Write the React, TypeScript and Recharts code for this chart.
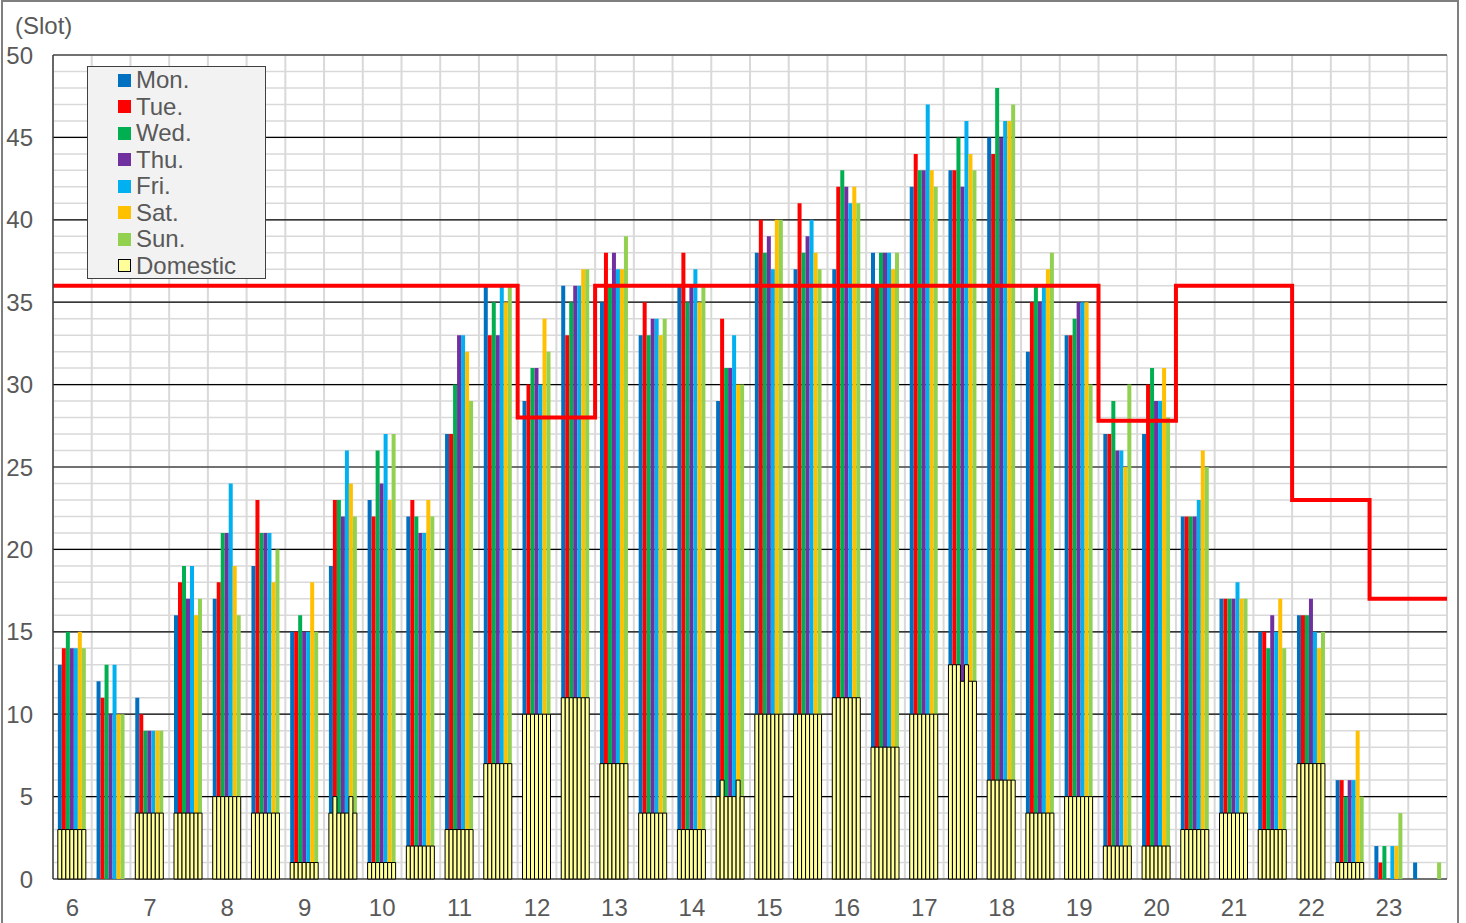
import React from 'react';
import { ComposedChart, Bar, Line, XAxis, YAxis, CartesianGrid } from 'recharts';

const slots = [
  '6:00', '6:30', '7:00', '7:30', '8:00', '8:30', '9:00', '9:30', '10:00', '10:30',
  '11:00', '11:30', '12:00', '12:30', '13:00', '13:30', '14:00', '14:30', '15:00', '15:30',
  '16:00', '16:30', '17:00', '17:30', '18:00', '18:30', '19:00', '19:30', '20:00', '20:30',
  '21:00', '21:30', '22:00', '22:30', '23:00', '23:30',
];

const mon = [13, 12, 11, 16, 17, 19, 15, 19, 23, 22, 27, 36, 29, 36, 35, 33, 36, 29, 38, 37, 37, 38, 42, 43, 45, 32, 33, 27, 27, 22, 17, 15, 16, 6, 2, 1];
const tue = [14, 11, 10, 18, 18, 23, 15, 23, 22, 23, 27, 33, 30, 33, 38, 35, 38, 34, 40, 41, 42, 36, 44, 43, 44, 35, 33, 27, 30, 22, 17, 15, 16, 6, 1, 0];
const wed = [15, 13, 9, 19, 21, 21, 16, 23, 26, 22, 30, 35, 31, 35, 36, 33, 35, 31, 38, 38, 43, 38, 43, 45, 48, 36, 34, 29, 31, 22, 17, 14, 16, 5, 2, 0];
const thu = [14, 10, 9, 17, 21, 21, 15, 22, 24, 21, 33, 33, 31, 36, 38, 34, 36, 31, 39, 39, 42, 38, 43, 42, 45, 35, 35, 26, 29, 22, 17, 16, 17, 6, 0, 0];
const fri = [14, 13, 9, 19, 24, 21, 15, 26, 27, 21, 33, 36, 30, 36, 37, 34, 37, 33, 37, 40, 41, 38, 47, 46, 46, 36, 35, 26, 29, 23, 18, 15, 15, 6, 2, 0];
const sat = [15, 10, 9, 16, 19, 18, 18, 24, 23, 23, 32, 35, 34, 37, 37, 33, 35, 30, 40, 38, 42, 37, 43, 44, 46, 37, 35, 25, 31, 26, 17, 17, 14, 9, 2, 0];
const sun = [14, 10, 9, 17, 16, 20, 15, 22, 27, 22, 29, 36, 32, 37, 39, 34, 36, 30, 40, 37, 41, 38, 42, 43, 47, 38, 30, 30, 28, 25, 17, 14, 15, 5, 4, 1];

// domestic share, same for every day except the listed slots
const domestic = [3, 0, 4, 4, 5, 4, 1, 4, 1, 2, 3, 7, 10, 11, 7, 4, 3, 5, 10, 10, 11, 8, 10, 13, 6, 4, 5, 2, 2, 3, 4, 3, 7, 1, 0, 0];
const domesticExceptions = [
  { slot: '9:30', days: ['Tue', 'Sat'], value: 5 },
  { slot: '14:30', days: ['Tue', 'Sat'], value: 6 },
  { slot: '17:30', days: ['Thu', 'Sat', 'Sun'], value: 12 },
];

// red capacity line
const capacity = [
  36, 36, 36, 36, 36, 36, 36, 36, 36, 36, 36, 36, 28, 28, 36, 36, 36, 36, 36, 36,
  36, 36, 36, 36, 36, 36, 36, 27.8, 27.8, 36, 36, 36, 23, 23, 17, 17,
];

const yTicks = [0, 5, 10, 15, 20, 25, 30, 35, 40, 45, 50];

const days = [
  { key: 'Mon', label: 'Mon.', color: '#0070C0', values: mon },
  { key: 'Tue', label: 'Tue.', color: '#FF0000', values: tue },
  { key: 'Wed', label: 'Wed.', color: '#00B050', values: wed },
  { key: 'Thu', label: 'Thu.', color: '#7030A0', values: thu },
  { key: 'Fri', label: 'Fri.', color: '#00B0F0', values: fri },
  { key: 'Sat', label: 'Sat.', color: '#FFC000', values: sat },
  { key: 'Sun', label: 'Sun.', color: '#92D050', values: sun },
];

const domesticFor = (day: string, slot: string, i: number) => {
  const ex = domesticExceptions.find((e) => e.slot === slot && e.days.includes(day));
  return ex ? ex.value : domestic[i];
};

const rows = slots.map((slot, i) => {
  const row: Record<string, any> = { slot };
  days.forEach((d) => {
    row[d.key] = d.values[i];
    row['dom' + d.key] = domesticFor(d.key, slot, i);
  });
  return row;
});

const capLine = [
  ...capacity.map((cap, i) => ({ x: i, cap })),
  { x: slots.length, cap: capacity[capacity.length - 1] },
];

const boundaries = Array.from({ length: slots.length + 1 }, (_, i) => i);
const minorTicks = Array.from({ length: 51 }, (_, i) => i);

const FONT = '"Liberation Sans", Arial, sans-serif';
const TEXT = '#595959';
const AXIS = '#404040';
const FS = 24;

// slot boundaries -> pixels, through the numeric axis scale when available
const boundaryLines = ({ xAxis, offset }: any) =>
  boundaries.map((b) => {
    const px = xAxis && typeof xAxis.scale === 'function' ? xAxis.scale(b) : undefined;
    return typeof px === 'number' && !Number.isNaN(px)
      ? px
      : offset.left + (offset.width * b) / slots.length;
  });

function ChartLegend() {
  const items = [
    ...days.map((d) => ({ label: d.label, fill: d.color, border: d.color })),
    { label: 'Domestic', fill: '#FFFF99', border: '#000' },
  ];
  return (
    <div
      style={{
        position: 'absolute',
        left: 87,
        top: 66,
        width: 179,
        height: 213,
        boxSizing: 'border-box',
        background: '#F2F2F2',
        border: `1px solid ${AXIS}`,
      }}
    >
      {items.map((it) => (
        <div
          key={it.label}
          style={{ display: 'flex', alignItems: 'center', height: 26.5, paddingLeft: 30 }}
        >
          <span
            style={{
              display: 'inline-block',
              width: 13,
              height: 13,
              boxSizing: 'border-box',
              background: it.fill,
              border: `1px solid ${it.border}`,
              marginRight: 5,
            }}
          />
          <span style={{ fontSize: FS, color: TEXT, lineHeight: '26px' }}>{it.label}</span>
        </div>
      ))}
    </div>
  );
}

export default function App() {
  return (
    <div
      style={{
        position: 'absolute',
        left: 0,
        top: 0,
        width: 1466,
        height: 923,
        overflow: 'hidden',
        background: '#fff',
        fontFamily: FONT,
      }}
    >
      <ComposedChart
        width={1466}
        height={923}
        data={rows}
        margin={{ top: 55, right: 19, left: 0, bottom: 0 }}
        barCategoryGap="12.5%"
        barGap={0}
      >
        <XAxis
          xAxisId="num"
          type="number"
          dataKey="x"
          domain={[0, slots.length]}
          ticks={boundaries}
          interval={0}
          allowDataOverflow
          height={0}
          tick={false}
          tickSize={7}
          tickLine={{ stroke: AXIS, strokeWidth: 1.5 }}
          axisLine={{ stroke: AXIS, strokeWidth: 1.5 }}
        />
        <XAxis
          xAxisId="cat"
          dataKey="slot"
          interval={1}
          height={44}
          tickSize={0}
          tickMargin={20}
          axisLine={false}
          tickLine={false}
          tickFormatter={(v: string) => v.split(':')[0]}
          tick={{ fill: TEXT, fontSize: FS, fontFamily: FONT }}
        />
        <XAxis xAxisId="dom" dataKey="slot" hide />
        <YAxis
          domain={[0, 50]}
          ticks={yTicks}
          interval={0}
          width={53}
          tickSize={0}
          tickMargin={20}
          tickLine={false}
          axisLine={{ stroke: AXIS, strokeWidth: 1.5 }}
          tick={{ fill: TEXT, fontSize: FS, fontFamily: FONT }}
        />
        <YAxis
          yAxisId="right"
          orientation="right"
          domain={[0, 50]}
          width={0}
          tick={false}
          tickLine={false}
          axisLine={{ stroke: AXIS, strokeWidth: 1.5 }}
        />
        <CartesianGrid
          xAxisId="num"
          horizontalValues={minorTicks}
          vertical={false}
          stroke="#D9D9D9"
          strokeWidth={1.5}
        />
        <CartesianGrid
          xAxisId="num"
          horizontal={false}
          verticalCoordinatesGenerator={boundaryLines}
          stroke="#D9D9D9"
          strokeWidth={2}
        />
        <CartesianGrid
          xAxisId="num"
          horizontalValues={yTicks}
          vertical={false}
          stroke="#000"
          strokeWidth={1.2}
        />
        {days.map((d) => (
          <Bar
            key={d.key}
            xAxisId="cat"
            dataKey={d.key}
            name={d.label}
            fill={d.color}
            isAnimationActive={false}
          />
        ))}
        {days.map((d) => (
          <Bar
            key={'dom' + d.key}
            xAxisId="dom"
            dataKey={'dom' + d.key}
            fill="#FFFF99"
            stroke="#000"
            strokeWidth={1}
            isAnimationActive={false}
          />
        ))}
        <Line
          xAxisId="num"
          data={capLine}
          dataKey="cap"
          type="stepAfter"
          stroke="#FF0000"
          strokeWidth={4}
          dot={false}
          activeDot={false}
          isAnimationActive={false}
        />
      </ComposedChart>
      <div
        style={{
          position: 'absolute',
          left: 15,
          top: 12,
          fontSize: FS,
          color: TEXT,
          lineHeight: '28px',
        }}
      >
        (Slot)
      </div>
      <ChartLegend />
      <div
        style={{
          position: 'absolute',
          left: 1,
          top: 0,
          width: 1458,
          height: 923,
          boxSizing: 'border-box',
          border: '2px solid #7F7F7F',
          borderBottom: 'none',
          pointerEvents: 'none',
        }}
      />
    </div>
  );
}
